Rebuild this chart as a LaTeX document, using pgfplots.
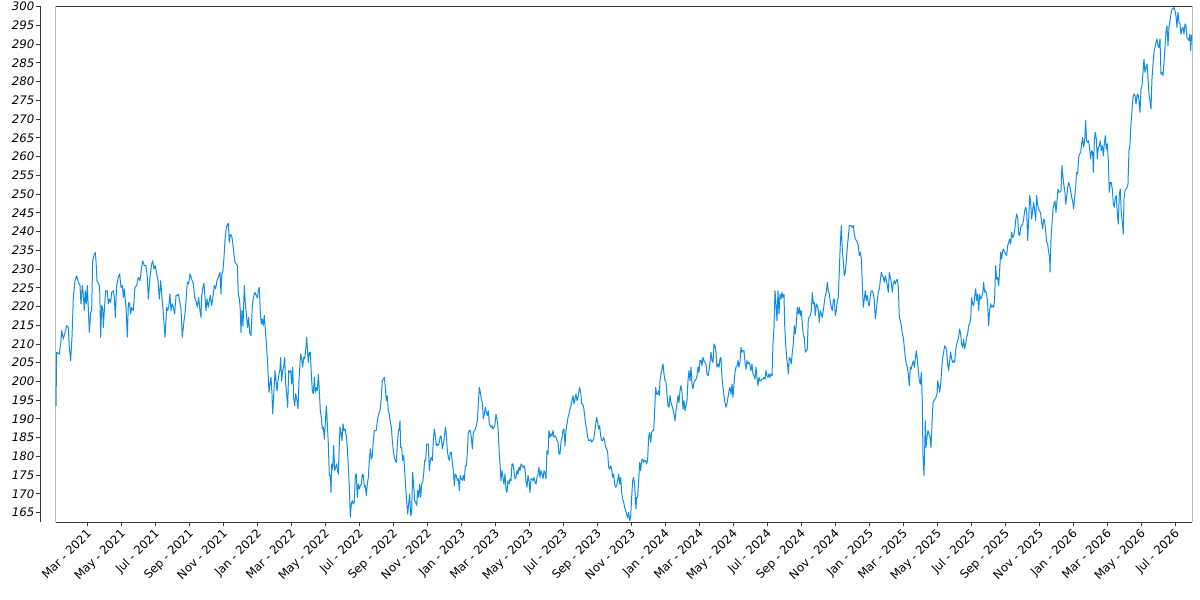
\documentclass[border=0pt]{standalone}
\usepackage{fontspec}
\usepackage{pgfplots}
\usepackage{pgfplotstable}
\pgfplotsset{compat=1.18}
\newfontfamily\djv{DejaVu Sans}
\newlength\px \setlength\px{0.75pt}
\definecolor{linec}{RGB}{16,140,228}
\definecolor{axc}{RGB}{55,55,55}
% x: position on the time axis (51 units = 1 month, Mar 2021 = 101), y: value
\pgfplotstableread{
x y
6 193.5
8 207.8
16 207.3
21 210.9
23 213.6
28 211.3
33 213.1
38 214.9
43 214.4
46 209.1
50 205.5
54 211.8
58 222.5
63 226.9
68 228.2
73 226.5
78 225.6
81 220.7
85 225.6
88 223.3
91 218.9
94 224.2
97 220.7
100 225.6
106 213.1
110 218.4
113 218.9
116 232.2
121 234.0
124 234.4
126 232.2
129 226.9
134 226.0
137 225.1
140 211.8
143 220.2
146 219.8
148 214.4
151 218.9
155 224.2
160 224.2
163 220.7
166 222.0
170 221.1
173 223.8
178 224.2
181 222.4
184 217.1
188 225.6
193 227.8
197 228.7
201 225.1
205 225.6
208 222.4
211 224.7
216 219.8
220 211.8
223 220.7
226 221.1
230 218.0
233 219.8
238 218.9
243 225.1
248 225.6
253 227.8
258 226.9
263 230.5
266 232.2
271 230.9
276 230.9
280 227.8
283 222.0
288 227.8
293 231.3
296 232.2
300 230.0
304 230.9
308 228.7
312 226.9
316 222.0
320 226.9
324 222.4
328 218.0
333 211.8
338 219.8
341 218.9
344 219.8
348 223.3
351 218.9
355 220.7
358 219.8
362 218.0
366 222.9
370 222.9
373 223.3
376 222.0
381 219.3
385 211.8
390 216.2
393 218.0
396 221.5
400 226.5
404 226.0
408 228.7
413 227.3
418 226.0
422 222.4
426 221.5
430 219.8
434 222.4
438 218.9
441 217.1
443 222.9
447 225.1
450 226.2
453 222.4
456 218.9
459 222.0
463 219.8
466 221.6
469 222.9
473 220.2
478 223.3
481 225.6
485 224.7
489 226.9
493 227.8
498 229.1
501 223.3
503 228.2
507 229.6
510 233.1
513 237.6
517 241.1
520 241.8
523 242.2
526 237.1
529 239.2
533 238.9
536 237.1
540 234.0
543 231.8
547 231.3
550 230.9
553 222.9
556 222.3
559 218.9
561 213.1
564 218.9
567 214.9
571 225.6
574 220.7
578 217.1
581 214.4
584 217.1
587 213.1
591 212.2
595 220.2
598 222.4
603 223.8
607 222.9
610 222.3
613 224.2
616 225.1
619 218.5
622 215.3
625 216.7
628 214.9
631 217.6
635 212.7
638 209.1
641 204.7
645 197.1
648 199.3
651 201.1
654 196.7
656 191.3
659 195.8
663 202.9
666 200.2
669 197.5
672 200.2
675 202.0
678 203.3
680 206.4
683 200.2
686 202.9
689 203.8
692 206.4
695 199.3
698 196.7
701 193.1
704 202.9
707 202.4
710 202.9
713 199.3
716 203.8
719 195.8
722 193.5
725 196.7
729 194.9
732 192.7
735 200.2
738 204.7
740 207.3
743 206.0
746 203.8
749 206.4
752 206.0
755 208.2
758 211.8
760 209.1
763 205.1
766 207.8
769 207.8
772 202.0
775 197.5
778 196.7
781 201.1
784 197.1
787 198.4
790 197.5
793 202.0
796 197.5
799 192.2
802 190.4
805 187.3
808 187.8
811 184.6
814 188.7
817 193.5
820 188.7
823 183.3
826 174.9
829 174.9
831 170.4
833 178.0
836 176.6
839 182.9
842 176.2
845 177.1
848 178.0
851 176.2
853 175.3
856 183.3
858 187.8
861 186.4
864 184.2
867 188.7
870 186.9
873 187.3
877 185.5
880 182.4
883 177.1
886 171.8
889 163.8
892 167.3
895 168.2
898 167.3
901 167.8
904 174.9
907 175.3
910 169.1
913 172.6
916 171.3
919 172.2
922 172.6
925 175.3
928 174.9
931 171.8
934 172.2
937 169.5
940 172.6
943 174.4
946 178.9
949 182.0
952 179.3
955 180.2
958 184.2
961 186.9
964 186.9
967 186.9
970 189.5
973 190.9
976 191.8
979 192.7
982 195.8
985 200.2
988 200.7
991 201.1
994 198.4
997 194.9
1000 196.2
1003 192.2
1006 191.3
1009 189.1
1012 187.8
1015 184.2
1018 181.5
1021 179.8
1024 178.9
1027 178.4
1030 183.3
1033 186.4
1036 187.8
1038 189.5
1040 182.4
1043 182.4
1046 178.9
1049 180.2
1052 176.2
1055 171.8
1058 168.2
1061 164.6
1064 167.3
1067 170.0
1070 164.2
1073 165.1
1076 175.8
1079 172.2
1082 168.2
1085 167.8
1088 166.9
1091 170.9
1094 169.1
1097 172.6
1100 169.1
1103 172.6
1106 173.1
1109 175.3
1112 178.9
1115 178.9
1118 183.3
1121 183.3
1123 183.3
1126 176.2
1129 178.9
1132 179.8
1135 178.9
1138 184.2
1141 187.3
1144 185.5
1147 182.9
1150 183.3
1153 182.9
1156 183.8
1159 185.5
1162 185.1
1165 182.0
1168 183.3
1171 185.1
1174 187.8
1177 186.0
1180 181.5
1183 179.8
1186 178.9
1189 181.1
1192 181.1
1195 178.4
1198 176.2
1201 172.2
1204 175.3
1207 174.9
1210 173.6
1213 174.0
1216 170.9
1219 174.9
1222 174.0
1225 173.6
1228 174.9
1231 173.6
1234 177.5
1237 177.5
1240 181.1
1243 186.4
1246 186.9
1249 186.9
1252 185.1
1255 182.0
1258 186.4
1261 186.9
1264 187.3
1267 188.2
1270 189.5
1273 194.0
1276 198.4
1279 197.1
1282 195.3
1285 194.4
1288 190.0
1291 191.3
1294 193.1
1297 191.8
1300 190.9
1303 192.2
1306 188.7
1308 188.2
1311 187.8
1314 188.2
1317 187.3
1320 187.8
1323 188.6
1326 191.3
1329 190.0
1332 187.8
1335 182.4
1338 178.0
1341 173.5
1344 176.2
1347 174.4
1350 172.6
1353 175.3
1356 171.3
1359 170.4
1362 173.5
1365 172.6
1368 174.0
1371 173.5
1374 178.0
1377 178.0
1380 176.2
1383 174.0
1386 174.4
1389 176.2
1392 175.3
1395 177.1
1398 176.2
1401 178.0
1404 177.5
1407 177.1
1410 177.5
1413 176.6
1416 173.5
1419 171.8
1422 174.9
1425 173.5
1428 170.4
1431 174.0
1434 174.0
1437 173.5
1440 174.4
1443 173.1
1446 172.6
1449 174.4
1452 175.3
1455 177.1
1458 174.4
1461 176.2
1464 175.3
1467 174.0
1470 176.2
1473 175.7
1476 174.0
1479 181.5
1482 180.6
1485 186.9
1488 185.1
1491 186.0
1494 185.5
1497 186.9
1500 185.1
1503 185.5
1506 185.1
1509 184.2
1512 183.8
1515 180.6
1518 180.6
1521 183.8
1524 185.1
1527 186.9
1530 187.3
1533 182.9
1536 186.9
1539 188.6
1542 190.4
1545 191.3
1548 192.6
1551 193.5
1554 194.9
1557 196.2
1560 194.0
1563 195.3
1566 196.7
1569 194.9
1572 195.8
1575 197.5
1577 198.4
1580 197.1
1583 194.0
1586 194.0
1589 193.1
1592 190.9
1595 188.6
1598 187.3
1601 185.1
1604 184.2
1607 184.2
1610 184.6
1613 183.8
1616 184.2
1619 184.6
1622 186.4
1625 188.6
1628 190.4
1631 189.1
1634 187.3
1637 188.2
1640 185.5
1643 184.2
1646 184.2
1649 185.1
1652 184.2
1655 182.4
1658 182.0
1661 181.1
1664 177.1
1667 176.6
1670 177.5
1673 176.6
1676 174.4
1679 175.3
1682 172.6
1685 171.8
1688 172.2
1691 173.5
1694 175.3
1697 172.6
1700 174.4
1703 170.4
1706 168.6
1709 167.8
1712 166.4
1715 165.5
1718 164.6
1721 163.7
1724 165.1
1727 162.9
1730 163.7
1733 169.1
1736 173.5
1739 174.4
1742 172.2
1746 166.0
1748 169.1
1751 169.1
1754 173.5
1757 178.4
1760 176.2
1763 178.9
1766 179.3
1769 178.4
1772 178.9
1775 178.9
1778 178.0
1781 179.3
1784 185.1
1787 186.4
1790 183.7
1793 186.4
1796 186.9
1799 186.9
1802 192.2
1805 198.4
1808 196.6
1811 196.6
1814 197.5
1816 196.2
1818 200.2
1821 202.0
1824 203.3
1827 204.7
1830 202.0
1833 200.2
1836 199.8
1839 196.6
1842 193.5
1845 193.1
1848 196.2
1851 194.4
1854 193.5
1857 192.6
1860 191.3
1863 189.5
1866 192.2
1869 194.0
1872 196.2
1875 194.4
1878 197.5
1881 198.9
1884 197.1
1887 192.6
1890 194.9
1893 192.2
1896 193.5
1899 194.9
1902 200.2
1905 202.9
1908 200.2
1911 203.8
1914 199.3
1917 198.0
1920 199.8
1923 200.2
1926 200.6
1929 201.5
1932 203.8
1935 202.4
1938 205.6
1941 205.6
1944 204.2
1947 206.4
1950 205.6
1953 205.1
1956 204.7
1959 202.0
1962 201.5
1965 202.9
1968 205.1
1971 207.8
1974 205.6
1977 205.1
1980 210.0
1983 209.5
1986 207.8
1989 203.8
1992 204.7
1995 203.8
1998 206.0
2001 206.4
2004 201.1
2007 198.4
2010 196.2
2013 194.4
2016 193.1
2019 194.0
2022 195.8
2025 197.5
2028 198.4
2031 196.6
2034 199.3
2037 195.8
2040 199.3
2043 202.4
2046 203.8
2049 204.2
2052 205.6
2055 203.8
2058 205.1
2061 209.1
2064 207.8
2067 208.2
2070 208.2
2073 205.1
2076 203.3
2079 205.6
2082 204.7
2085 205.1
2088 204.2
2091 202.9
2094 204.7
2097 202.0
2100 201.5
2103 200.6
2106 203.8
2109 201.1
2112 198.9
2115 201.1
2118 200.2
2121 200.2
2124 200.6
2127 200.6
2130 201.1
2133 200.6
2136 202.9
2139 201.5
2142 201.1
2145 202.0
2148 201.1
2151 202.0
2154 201.5
2157 210.0
2160 214.4
2163 224.2
2166 220.7
2169 216.2
2172 224.2
2175 218.0
2178 223.3
2181 222.0
2184 223.8
2187 222.4
2190 223.3
2192 215.3
2195 210.0
2198 206.4
2201 204.2
2203 202.0
2206 206.4
2209 206.0
2212 204.7
2215 207.8
2218 210.0
2221 214.9
2224 212.7
2227 215.3
2230 219.8
2233 218.0
2236 219.8
2239 217.6
2242 218.9
2245 215.3
2248 212.2
2251 211.8
2254 207.8
2257 208.2
2260 208.7
2263 216.7
2266 217.1
2269 217.6
2272 218.9
2275 223.8
2278 220.7
2281 221.1
2284 217.6
2287 220.7
2290 220.2
2293 218.9
2296 215.8
2299 218.9
2302 218.0
2305 217.1
2308 218.9
2311 221.1
2314 222.9
2317 223.8
2320 226.5
2323 224.2
2326 223.3
2329 221.1
2332 219.8
2335 218.9
2338 221.6
2341 222.0
2344 217.6
2347 218.9
2350 221.6
2353 222.4
2356 229.6
2359 236.7
2362 241.6
2365 234.9
2368 232.2
2371 228.2
2374 229.1
2377 232.2
2380 235.8
2383 238.5
2386 241.6
2389 241.6
2392 241.6
2395 241.1
2398 241.6
2401 239.3
2404 238.0
2407 237.6
2410 237.1
2413 236.2
2416 233.6
2419 234.5
2422 232.7
2425 226.0
2428 219.8
2431 222.0
2434 224.2
2437 221.6
2440 222.9
2443 220.7
2446 220.2
2449 222.9
2452 224.2
2455 224.2
2458 223.3
2461 221.6
2464 216.7
2467 218.9
2470 221.6
2473 223.8
2476 224.7
2479 226.9
2482 229.1
2485 228.2
2488 227.8
2491 226.5
2494 228.2
2497 226.9
2500 225.6
2503 223.8
2506 229.1
2509 227.8
2512 226.5
2515 223.8
2518 226.0
2521 226.9
2524 226.0
2527 226.9
2530 227.3
2533 225.1
2536 217.1
2539 216.2
2542 214.9
2545 212.7
2548 211.8
2551 209.1
2554 206.4
2557 204.7
2560 203.8
2563 202.0
2566 198.9
2569 203.8
2572 203.3
2575 204.7
2578 205.5
2581 203.8
2584 206.0
2587 208.2
2590 206.0
2593 202.9
2596 200.2
2599 199.3
2602 202.4
2605 194.0
2607 180.6
2610 174.9
2612 181.5
2614 189.5
2616 182.4
2619 185.1
2622 186.9
2625 186.0
2628 185.1
2631 182.4
2634 188.6
2637 194.4
2640 194.9
2643 195.3
2646 195.8
2649 196.7
2651 200.2
2654 198.9
2657 197.1
2660 199.3
2663 202.9
2666 206.4
2669 207.8
2672 209.5
2675 209.1
2678 208.2
2681 204.7
2684 202.9
2687 205.5
2690 207.8
2693 206.0
2696 205.1
2699 205.5
2702 205.1
2705 208.2
2708 210.0
2711 210.9
2714 211.8
2717 214.0
2720 212.7
2723 210.0
2726 209.1
2729 211.3
2732 208.7
2735 210.0
2738 211.8
2741 212.7
2744 214.9
2747 215.3
2750 216.7
2753 222.4
2756 220.7
2759 220.2
2762 222.4
2765 224.7
2768 221.6
2771 223.3
2774 218.9
2777 223.3
2780 222.0
2783 222.4
2786 223.3
2789 226.4
2792 223.8
2795 224.2
2798 223.3
2801 220.7
2804 214.9
2807 218.9
2810 220.7
2813 219.8
2816 220.2
2819 219.8
2822 222.0
2825 230.9
2828 227.3
2831 227.8
2834 225.6
2837 229.6
2840 234.5
2843 232.7
2846 234.9
2849 235.3
2852 234.5
2855 234.0
2858 233.6
2861 236.2
2864 237.1
2867 238.0
2870 236.7
2873 239.8
2876 238.4
2879 238.9
2882 240.2
2885 242.9
2888 244.7
2891 243.8
2894 239.3
2897 238.9
2900 241.1
2903 241.6
2906 242.0
2909 243.3
2912 245.6
2915 246.5
2918 245.6
2921 237.6
2924 242.9
2927 249.6
2930 247.8
2933 243.3
2936 245.6
2939 247.8
2942 245.6
2945 242.9
2948 249.6
2951 247.3
2954 246.0
2957 245.6
2960 244.7
2963 242.5
2966 240.7
2969 243.3
2972 242.9
2975 240.2
2978 237.1
2981 236.7
2984 234.5
2987 233.1
2988 229.2
2991 237.6
2994 242.0
2997 246.0
3000 247.3
3003 248.2
3006 245.1
3009 248.2
3012 251.3
3015 250.5
3018 250.5
3021 250.9
3024 257.6
3027 254.5
3030 252.2
3033 250.5
3035 247.3
3038 249.1
3041 251.8
3044 253.1
3047 252.2
3050 250.9
3053 249.1
3056 248.2
3059 246.0
3062 249.1
3065 251.8
3068 255.8
3071 255.4
3074 259.8
3077 260.7
3080 261.1
3083 263.4
3086 265.1
3089 262.5
3092 264.2
3095 269.6
3098 264.2
3101 263.8
3104 264.2
3107 262.0
3110 259.4
3113 261.6
3116 261.1
3118 255.8
3121 264.2
3124 266.5
3127 264.7
3130 259.4
3133 262.5
3136 262.9
3139 264.2
3142 261.6
3145 262.9
3148 260.2
3151 263.4
3154 265.6
3157 262.0
3160 263.4
3163 258.9
3166 250.5
3169 253.1
3172 253.1
3175 251.3
3178 247.3
3181 246.5
3184 249.1
3187 249.6
3190 244.7
3193 242.0
3196 250.0
3199 251.3
3202 244.7
3205 242.5
3208 239.3
3210 248.7
3213 250.9
3216 251.3
3219 251.8
3222 252.7
3225 261.6
3228 263.4
3231 268.7
3234 272.2
3237 275.8
3240 276.7
3243 276.3
3246 274.0
3249 276.3
3252 276.7
3255 274.9
3258 271.8
3261 278.0
3264 278.9
3267 282.5
3270 286.0
3273 282.5
3276 283.8
3279 284.7
3282 281.1
3285 276.7
3288 274.9
3291 272.7
3294 280.7
3297 284.7
3300 287.8
3303 289.1
3306 290.5
3309 291.4
3312 289.6
3315 289.1
3318 291.4
3321 282.0
3324 282.5
3327 281.6
3330 285.1
3333 289.1
3336 293.2
3339 294.9
3342 289.6
3345 294.5
3348 296.3
3351 298.0
3354 299.4
3357 299.4
3360 299.8
3363 298.9
3366 297.6
3369 294.5
3372 298.5
3375 295.8
3378 295.4
3381 292.7
3384 294.0
3387 294.5
3390 292.7
3393 295.4
3396 294.9
3399 291.8
3402 291.4
3405 290.9
3408 292.7
3410 288.3
3413 292.5
}\pricedata
\begin{document}
\begin{tikzpicture}
\path[use as bounding box] (0,0) rectangle (1200\px,600\px);
\begin{axis}[
  at={(55.5\px,78\px)}, anchor=south west,
  scale only axis, width=1136.8\px, height=515.7\px,
  xmin=4.5, xmax=3415, ymin=162.5, ymax=300.1,
  axis x line=bottom, axis y line=left,
  axis y line shift=15\px,
  axis line style={-, axc, line width=0.9\px},
  tick align=outside,
  major tick length=4.5\px,
  tick style={axc, line width=0.9\px},
  xtick={101,203,...,3365},
  xticklabels={Mar - 2021, May - 2021, Jul - 2021, Sep - 2021, Nov - 2021,
    Jan - 2022, Mar - 2022, May - 2022, Jul - 2022, Sep - 2022, Nov - 2022,
    Jan - 2023, Mar - 2023, May - 2023, Jul - 2023, Sep - 2023, Nov - 2023,
    Jan - 2024, Mar - 2024, May - 2024, Jul - 2024, Sep - 2024, Nov - 2024,
    Jan - 2025, Mar - 2025, May - 2025, Jul - 2025, Sep - 2025, Nov - 2025,
    Jan - 2026, Mar - 2026, May - 2026, Jul - 2026},
  ytick={165,170,...,300},
  /pgf/number format/assume math mode=true,
  x tick label style={font=\djv\fontsize{8.8}{10}\selectfont, xshift=-2\px, rotate=45, anchor=north east, inner sep=1\px},
  y tick label style={font=\djv\itshape\fontsize{8.8}{10}\selectfont, inner sep=1.5\px},
]
\addplot[linec, line width=1\px, line join=round, no marks] table[x=x,y=y] {\pricedata};
\draw[axc, line width=0.9\px] (rel axis cs:0,0) rectangle (rel axis cs:1,1);
\end{axis}
\end{tikzpicture}
\end{document}
